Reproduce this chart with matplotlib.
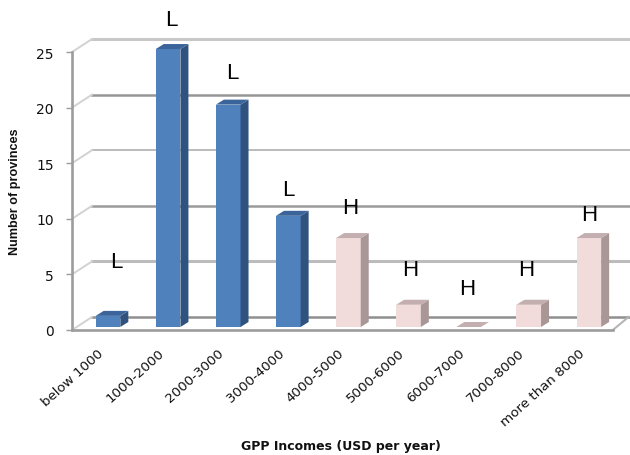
import matplotlib
matplotlib.use("Agg")
import matplotlib.pyplot as plt
from matplotlib.patches import Polygon

categories = ["below 1000", "1000-2000", "2000-3000", "3000-4000", "4000-5000",
              "5000-6000", "6000-7000", "7000-8000", "more than 8000"]
provinces = [1, 25, 20, 10, 8, 2, 0, 2, 8]
classes = ["L", "L", "L", "L", "H", "H", "H", "H", "H"]
y_ticks = [0, 5, 10, 15, 20, 25]

# hand placed letters, they do not sit at a fixed distance from the bars
class_x = [0.13, 1.06, 2.06, 3.0, 4.03, 5.03, 5.97, 6.96, 8.0]
class_y = [6.2, 27.97, 23.2, 12.6, 11.05, 5.4, 3.75, 5.4, 10.35]

# fake 3d look, in data units
bar_w = 0.41
base = 0.27
dx = 0.133
dy = 0.45
wall_dx = 0.333
wall_dy = 1.17

blue = ("#4f81bd", "#2f527f", "#3b659a")
pink = ("#f2dcdb", "#a99696", "#c4afb0")

fig = plt.figure(figsize=(6.3, 4.56), dpi=100)
ax = fig.add_axes([72 / 630, (456 - 331) / 456, (630 - 72) / 630, 331 / 456])
ax.set_xlim(-0.599, 8.685)
ax.set_ylim(0, 29.77)

# back wall and floor
x_back = -0.599 + wall_dx
grid_colors = {0: "#8f8f8f", 5: "#bcbcbc", 10: "#9a9a9a", 15: "#a8a8a8", 20: "#969696", 25: "#c8c8c8"}
grid_widths = {0: 1.8, 5: 2.2, 10: 1.8, 15: 1.1, 20: 1.8, 25: 2.2}
for v in y_ticks:
    ax.plot([x_back, 8.685], [v + wall_dy] * 2, color=grid_colors[v], lw=grid_widths[v], zorder=1)
    ax.plot([-0.599, x_back], [v, v + wall_dy], color="#d2d2d2", lw=1.4, zorder=1)
ax.plot([8.40, 8.66], [0, wall_dy], color="#b5b5b5", lw=1.5, zorder=1)

# bars
for i, v in enumerate(provinces):
    front, side, top = blue if classes[i] == "L" else pink
    x0 = i - bar_w / 2
    x1 = i + bar_w / 2
    y1 = base + v
    if v > 0:
        ax.bar(i, v, bar_w, bottom=base, color=front, zorder=3)
        ax.add_patch(Polygon([(x1, base), (x1 + dx, base + dy), (x1 + dx, y1 + dy), (x1, y1)],
                             facecolor=side, edgecolor="none", zorder=3))
    ax.add_patch(Polygon([(x0, y1), (x1, y1), (x1 + dx, y1 + dy), (x0 + dx, y1 + dy)],
                         facecolor=top, edgecolor="none", zorder=3))

for x, y, c in zip(class_x, class_y, classes):
    ax.text(x, y, c, fontsize=16, family="Liberation Sans", ha="center", va="center",
            color="black", clip_on=False, zorder=5)

for name in ["top", "right"]:
    ax.spines[name].set_visible(False)
for name in ["left", "bottom"]:
    ax.spines[name].set_color("#9c9c9c")
    ax.spines[name].set_linewidth(1.9)
ax.spines["left"].set_bounds(0, 25)
ax.spines["bottom"].set_bounds(-0.599, 8.40)

ax.set_yticks(y_ticks)
ax.tick_params(axis="y", length=4, width=1, color="#9c9c9c", labelsize=10, pad=9, labelcolor="#111111")
ax.set_xticks([i - 0.1 for i in range(len(categories))])
ax.set_xticklabels(categories, rotation=42, ha="right", va="center", rotation_mode="anchor",
                   fontsize=9.6, color="#111111")
ax.tick_params(axis="x", length=0, pad=15)

fig.text(15 / 630, 1 - 192 / 456, "Number of provinces", rotation=90, ha="center", va="center",
         fontsize=9.1, fontweight="bold", family="Liberation Sans", color="#111111")
fig.text(341 / 630, 1 - 447 / 456, "GPP Incomes (USD per year)", ha="center", va="center",
         fontsize=9, fontweight="bold", family="DejaVu Sans", color="#111111")

fig.savefig("out.png", dpi=100)
